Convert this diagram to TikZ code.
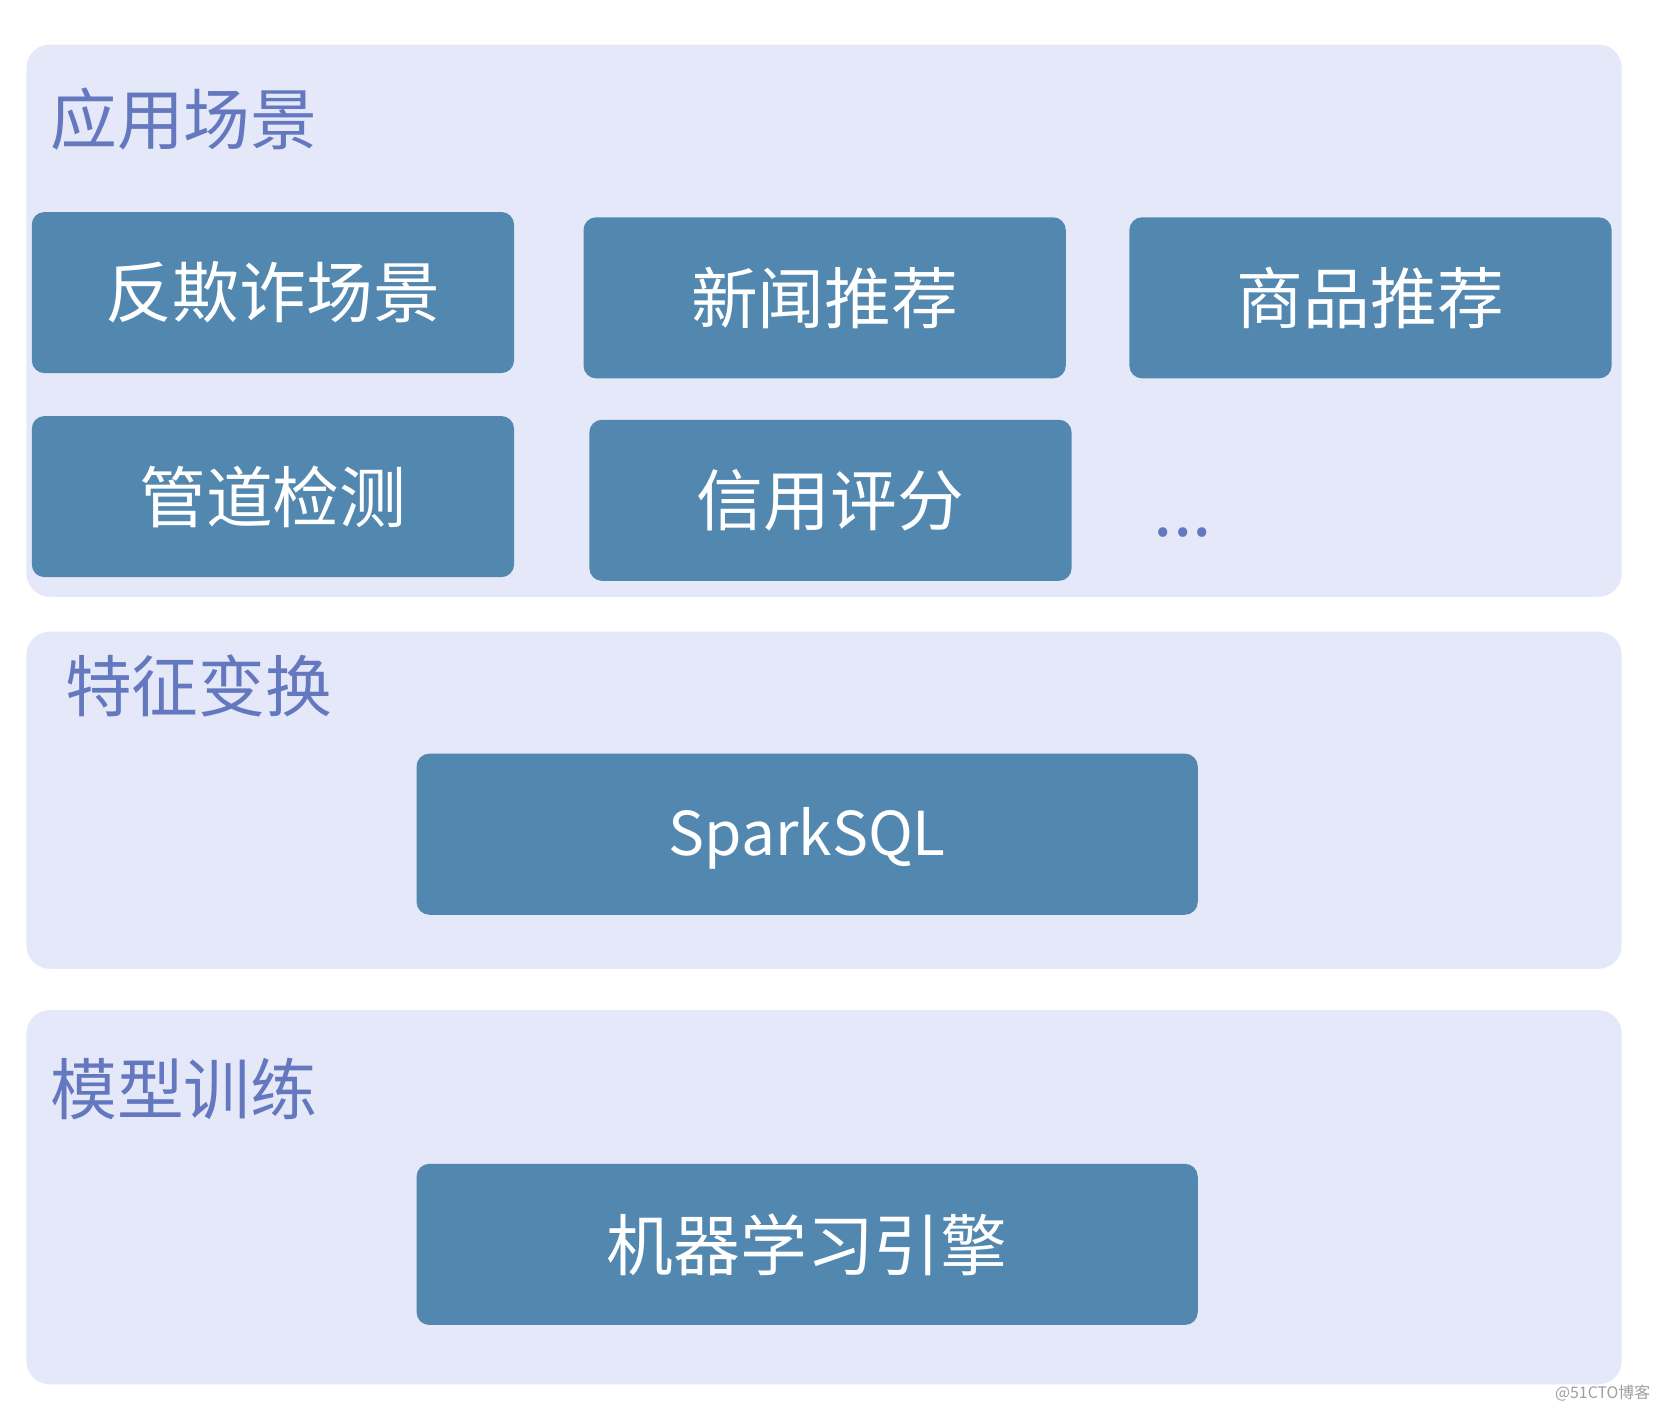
\documentclass[tikz,border=0pt]{standalone}
\usepackage{fontspec}
\setmainfont{Noto Sans CJK SC}
\definecolor{panelbg}{HTML}{E5E8F8}
\definecolor{boxbg}{HTML}{5288B0}
\definecolor{titleblue}{HTML}{6478BF}
\tikzset{
  panel/.style={draw=none, fill=panelbg, rounded corners=11pt, inner sep=0pt},
  box/.style={draw=none, fill=boxbg, rounded corners=6pt, text=white, inner sep=0pt,
    minimum width=227.5pt, minimum height=76pt, font=\fontsize{31.5}{36}\selectfont},
  widebox/.style={box, minimum width=368.5pt},
  title/.style={text=titleblue, anchor=west, inner sep=0pt, font=\fontsize{31.5}{36}\selectfont},
}
\begin{document}
\begin{tikzpicture}[x=0.5pt, y=-0.5pt]
\useasboundingbox (0,0) rectangle (1568,1330);
\fill[white] (0,0) rectangle (1568,1330);
% panels
\node[panel, minimum width=752.5pt, minimum height=260.5pt] (p1) at (777.5,302.5) {};
\node[panel, minimum width=752.5pt, minimum height=159pt] (p2) at (777.5,755) {};
\node[panel, minimum width=752.5pt, minimum height=176.5pt] (p3) at (777.5,1129.5) {};
% titles
\node[title] (t1) at (47,112) {应用场景};
\node[title] (t2) at (61,647) {特征变换};
\node[title] (t3) at (47,1027) {模型训练};
% application boxes
\node[box] (b1) at (257.5,276) {反欺诈场景};
\node[box] (b2) at (778,281) {新闻推荐};
\node[box] (b3) at (1293,281) {商品推荐};
\node[box] (b4) at (257.5,468.5) {管道检测};
\node[box] (b5) at (783.5,472) {信用评分};
\node[text=titleblue, inner sep=0pt, font=\fontsize{33}{38}\selectfont] (dots) at (1116,502) {...};
% feature / model boxes
\node[widebox, font=\fontsize{28.5}{34}\selectfont] (spark) at (761.5,787) {\raisebox{-10pt}[0pt][0pt]{SparkSQL}};
\node[widebox] (ml) at (761.5,1174) {机器学习引擎};
% watermark
\node[text=gray!75, inner sep=0pt, font=\fontsize{7.5}{9}\selectfont] (wm) at (1512,1314) {@51CTO博客};
\end{tikzpicture}
\end{document}
